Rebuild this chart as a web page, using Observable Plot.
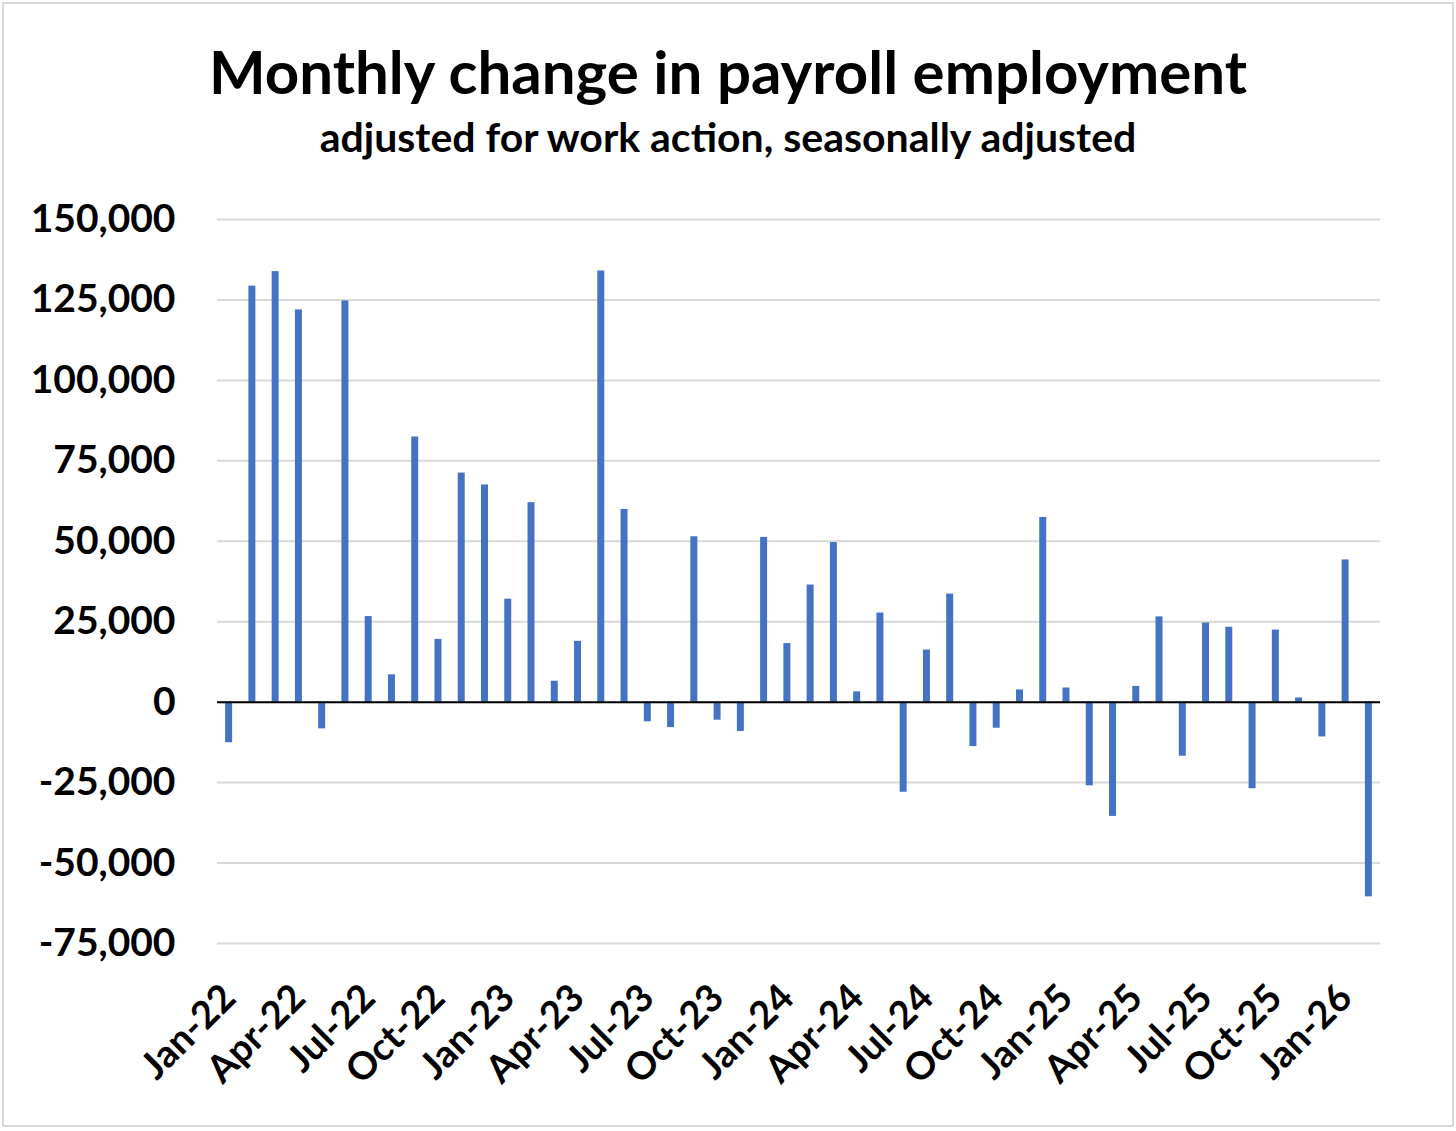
<!DOCTYPE html>
<html>
<head>
<meta charset="utf-8">
<script src="https://cdn.jsdelivr.net/npm/d3@7"></script>
<script src="https://cdn.jsdelivr.net/npm/@observablehq/plot@0.6"></script>
<style>
  html, body { margin: 0; padding: 0; background: #fff; }
  #wrap { position: relative; width: 1456px; height: 1131px; overflow: hidden; font-family: Lato, "Open Sans", sans-serif; color: #000; }
  #frame { position: absolute; left: 2px; top: 2px; width: 1448px; height: 1121px; border: 2px solid #d9d9d9; }
  #title { position: absolute; left: 0; width: 1456px; top: 41px; text-align: center; font-size: 60px; line-height: 60px; font-weight: 700; }
  #subtitle { position: absolute; left: 0; width: 1456px; top: 116px; text-align: center; font-size: 41px; line-height: 41px; font-weight: 700; }
  #chart { position: absolute; left: 0; top: 170px; }
</style>
</head>
<body>
<div id="wrap">
  <div id="frame"></div>
  <div id="title">Monthly change in payroll employment</div>
  <div id="subtitle">adjusted for work action, seasonally adjusted</div>
  <div id="chart"></div>
</div>
<script>
const months = [
  "Jan-22","Feb-22","Mar-22","Apr-22","May-22","Jun-22","Jul-22","Aug-22","Sep-22","Oct-22","Nov-22","Dec-22",
  "Jan-23","Feb-23","Mar-23","Apr-23","May-23","Jun-23","Jul-23","Aug-23","Sep-23","Oct-23","Nov-23","Dec-23",
  "Jan-24","Feb-24","Mar-24","Apr-24","May-24","Jun-24","Jul-24","Aug-24","Sep-24","Oct-24","Nov-24","Dec-24",
  "Jan-25","Feb-25","Mar-25","Apr-25","May-25","Jun-25","Jul-25","Aug-25","Sep-25","Oct-25","Nov-25","Dec-25",
  "Jan-26","Feb-26"
];
const changes = [
  -12600, 129300, 133800, 121900, -8300, 124700, 26600, 8500, 82400, 19500, 71200, 67500,
  32000, 62000, 6500, 18900, 134000, 59900, -6100, -7900, 51400, -5600, -9100, 51200,
  18200, 36400, 49600, 3200, 27700, -28000, 16200, 33600, -13800, -8100, 3800, 57400,
  4400, -26000, -35500, 4900, 26500, -16800, 24600, 23300, -26900, 22400, 1300, -10800,
  44200, -60500
];
const xTickLabels = ["Jan-22","Apr-22","Jul-22","Oct-22","Jan-23","Apr-23","Jul-23","Oct-23",
  "Jan-24","Apr-24","Jul-24","Oct-24","Jan-25","Apr-25","Jul-25","Oct-25","Jan-26"];
const yTicks = [-75000, -50000, -25000, 0, 25000, 50000, 75000, 100000, 125000, 150000];

const data = months.map((m, i) => ({month: m, value: changes[i]}));
const fmt = d => (d < 0 ? "-" : "") + d3.format(",")(Math.abs(d));

const chart = Plot.plot({
  width: 1456,
  height: 961,
  marginLeft: 217,
  marginRight: 76,
  marginTop: 49,
  marginBottom: 188,
  style: {fontFamily: "Lato, 'Open Sans', sans-serif", fontSize: "39px", fontWeight: "bold", color: "#000", background: "transparent"},
  x: {domain: months, paddingInner: 0.7, paddingOuter: 0.35, round: false, label: null},
  y: {domain: [-75000, 150000], label: null},
  marks: [
    Plot.gridY(yTicks, {stroke: "#d9d9d9", strokeWidth: 2, strokeOpacity: 1}),
    Plot.barY(data, {x: "month", y: "value", fill: "#4472C4"}),
    Plot.ruleY([0], {stroke: "#000", strokeWidth: 2}),
    Plot.axisY(yTicks, {tickSize: 0, tickPadding: 42, tickFormat: fmt, fill: "#000", fontSize: 39, fontWeight: "bold", label: null}),
    Plot.axisX(xTickLabels, {tickSize: 0, tickPadding: 48, tickRotate: -45, fill: "#000", fontSize: 38, fontWeight: "bold", label: null})
  ]
});
document.getElementById("chart").appendChild(chart);
</script>
</body>
</html>
